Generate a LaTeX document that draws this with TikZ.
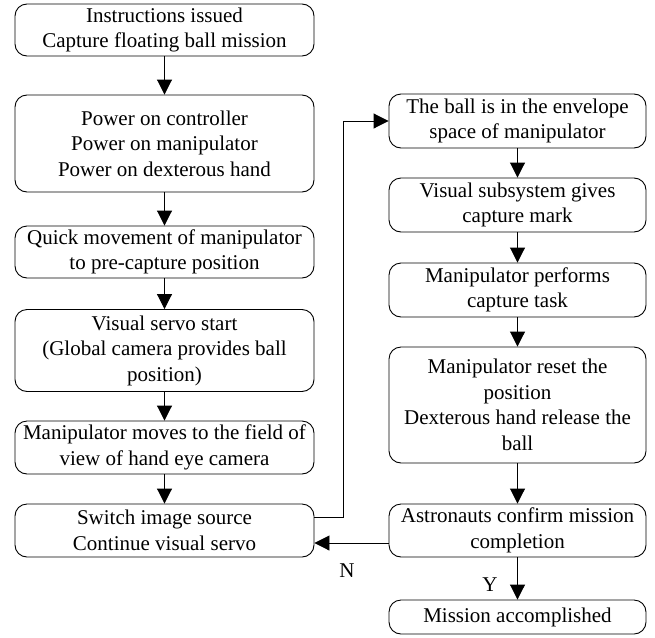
\documentclass[tikz,border=0pt]{standalone}
\usepackage{fontspec}
\setmainfont{Liberation Serif}
\usetikzlibrary{arrows.meta}
\begin{document}
\begin{tikzpicture}[x=1pt,y=-1pt,
  box/.style={draw,line width=0.9pt,rounded corners=12pt,align=center,inner sep=0pt,
    font=\fontsize{21}{25.5}\selectfont},
  lbox/.style={box,minimum width=299pt},
  rbox/.style={box,minimum width=257pt},
  arr/.style={line width=0.9pt,-{Triangle[width=15pt,length=15pt]}},
  lab/.style={font=\fontsize{21}{24}\selectfont,inner sep=0pt}]
\useasboundingbox (0,0) rectangle (655,637);
\node[lbox,minimum height=52pt] (L1) at (164.5,30) {Instructions issued\\Capture floating ball mission};
\node[lbox,minimum height=97pt] (L2) at (164.5,143.5) {Power on controller\\Power on manipulator\\Power on dexterous hand};
\node[lbox,minimum height=52pt] (L3) at (164.5,252) {Quick movement of manipulator\\to pre-capture position};
\node[lbox,minimum height=82pt] (L4) at (164.5,350.5) {Visual servo start\\(Global camera provides ball\\position)};
\node[lbox,minimum height=53pt] (L5) at (164.5,447.5) {Manipulator moves to the field of\\view of hand eye camera};
\node[lbox,minimum height=53pt] (L6) at (164.5,530.5) {Switch image source\\Continue visual servo};
\node[rbox,minimum height=54pt] (R1) at (517.5,121) {The ball is in the envelope\\space of manipulator};
\node[rbox,minimum height=54pt] (R2) at (517.5,205) {Visual subsystem gives\\capture mark};
\node[rbox,minimum height=54pt] (R3) at (517.5,290) {Manipulator performs\\capture task};
\node[rbox,minimum height=116pt] (R4) at (517.5,405) {Manipulator reset the\\position\\Dexterous hand release the\\ball};
\node[rbox,minimum height=53pt] (R5) at (517.5,530.5) {Astronauts confirm mission\\completion};
\node[rbox,minimum height=34pt] (R6) at (517.5,617) {Mission accomplished};
\draw[arr] (L1) -- (L2);
\draw[arr] (L2) -- (L3);
\draw[arr] (L3) -- (L4);
\draw[arr] (L4) -- (L5);
\draw[arr] (L5) -- (L6);
\draw[arr] (R1) -- (R2);
\draw[arr] (R2) -- (R3);
\draw[arr] (R3) -- (R4);
\draw[arr] (R4) -- (R5);
\draw[arr] (R5) -- (R6);
\coordinate (turn) at (343,517);
\draw[arr] (L6.east |- turn) -- (turn) |- (R1.west);
\draw[arr] (R5.west |- 0,543) -- (L6.east |- 0,543);
\node[lab] (N) at (347,571) {N};
\node[lab] (Y) at (490,585) {Y};
\end{tikzpicture}
\end{document}
